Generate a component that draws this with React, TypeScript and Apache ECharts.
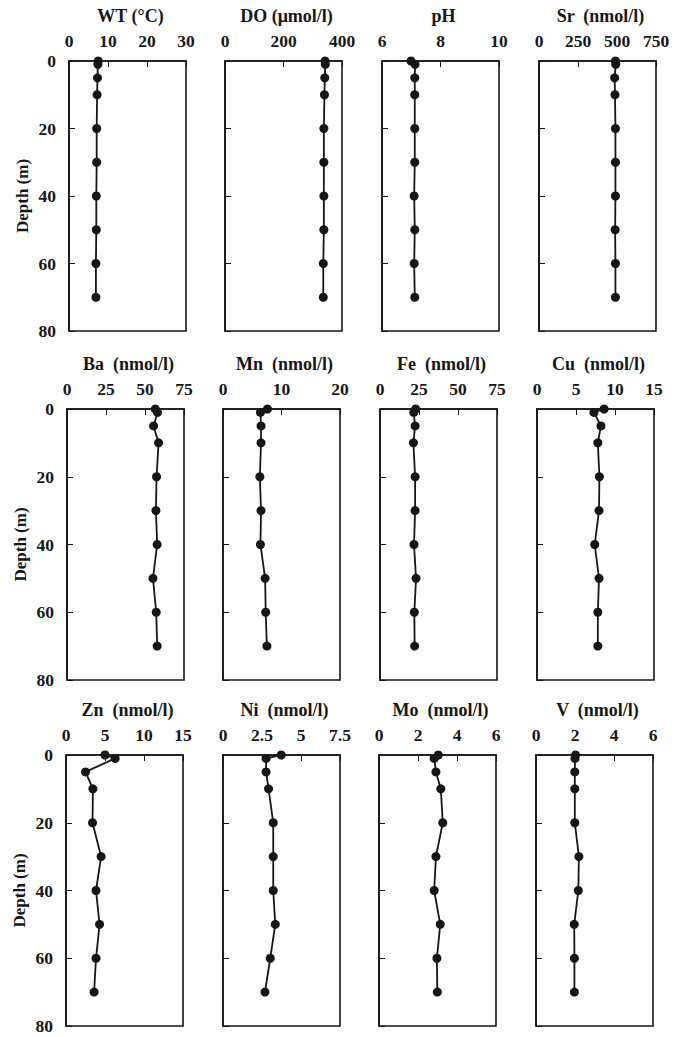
import React, { useEffect, useRef } from "react";
import * as echarts from "echarts";

const depths = [0, 1, 5, 10, 20, 30, 40, 50, 60, 70];
const depthTicks = [0, 20, 40, 60, 80];

const wt = [7.5, 7.4, 7.3, 7.2, 7.1, 7.1, 7.0, 7.0, 6.9, 6.9];
const dox = [342, 343, 341, 340, 338, 338, 338, 338, 336, 336];
const ph = [6.99, 7.13, 7.12, 7.12, 7.12, 7.12, 7.1, 7.12, 7.1, 7.12];
const sr = [490, 492, 485, 487, 490, 490, 490, 488, 490, 490];
const ba = [56.6, 58, 55.5, 58.7, 57.4, 57, 57.8, 55.1, 57.2, 57.8];
const mn = [7.6, 6.4, 6.5, 6.5, 6.3, 6.5, 6.4, 7.2, 7.3, 7.5];
const fe = [22.9, 21.6, 22.5, 21.4, 22.5, 22.5, 21.8, 23.1, 22, 22.2];
const cu = [8.6, 7.3, 8.2, 7.8, 8.0, 7.95, 7.4, 7.95, 7.8, 7.8];
const zn = [5.0, 6.3, 2.5, 3.45, 3.4, 4.5, 3.85, 4.3, 3.85, 3.6];
const ni = [3.73, 2.76, 2.76, 2.92, 3.22, 3.22, 3.22, 3.35, 3.03, 2.69];
const mo = [3.04, 2.83, 2.92, 3.17, 3.27, 2.92, 2.83, 3.14, 2.97, 2.99];
const vv = [2.03, 2.0, 1.99, 1.99, 1.99, 2.2, 2.17, 1.96, 1.97, 1.97];

const titles = [
  "WT (°C)", "DO (μmol/l)", "pH", "Sr  (nmol/l)",
  "Ba  (nmol/l)", "Mn  (nmol/l)", "Fe  (nmol/l)", "Cu  (nmol/l)",
  "Zn  (nmol/l)", "Ni  (nmol/l)", "Mo  (nmol/l)", "V  (nmol/l)",
];
const seriesValues = [wt, dox, ph, sr, ba, mn, fe, cu, zn, ni, mo, vv];
const xMin = [0, 0, 6, 0, 0, 0, 0, 0, 0, 0, 0, 0];
const xMax = [30, 400, 10, 750, 75, 20, 75, 15, 15, 7.5, 6, 6];
const xStep = [10, 200, 2, 250, 25, 10, 25, 5, 5, 2.5, 2, 2];

const rowTops = [61, 409, 755];
const rowBottoms = [331, 680, 1026];
const rowLefts = [
  [69, 225, 382, 539],
  [67, 223, 380, 537],
  [66, 223, 379, 536],
];
const PW = 117;
const FONT = "'Liberation Serif', 'Times New Roman', serif";
const INK = "#161616";

export default function App() {
  const ref = useRef<HTMLDivElement>(null);
  useEffect(() => {
    if (!ref.current) return;
    const chart = echarts.init(ref.current, undefined, { renderer: "svg" });
    const grids: any[] = [];
    const xAxes: any[] = [];
    const yAxes: any[] = [];
    const series: any[] = [];
    const graphics: any[] = [];
    for (let i = 0; i < 12; i++) {
      const r = Math.floor(i / 4);
      const c = i % 4;
      const left = rowLefts[r][c];
      const top = rowTops[r];
      const height = rowBottoms[r] - rowTops[r];
      grids.push({
        left, top, width: PW, height,
        show: true, borderColor: INK, borderWidth: 1.6, backgroundColor: "transparent",
      });
      xAxes.push({
        type: "value", gridIndex: i, position: "top",
        min: xMin[i], max: xMax[i], interval: xStep[i],
        axisLine: { show: true, lineStyle: { color: INK, width: 1.6 } },
        axisTick: { show: true, inside: true, length: 6, lineStyle: { color: INK, width: 1 } },
        axisLabel: {
          show: true, margin: 11, color: INK, fontSize: 17.5, fontWeight: "bold", fontFamily: FONT,
          showMinLabel: true, showMaxLabel: true,
        },
        splitLine: { show: false },
      });
      yAxes.push({
        type: "value", gridIndex: i, inverse: true,
        min: depthTicks[0], max: depthTicks[depthTicks.length - 1], interval: 20,
        axisLine: { show: true, lineStyle: { color: INK, width: 1.6 } },
        axisTick: { show: true, inside: true, length: 6, lineStyle: { color: INK, width: 1 } },
        axisLabel: {
          show: c === 0, margin: 13, color: INK, fontSize: 17.5, fontWeight: "bold", fontFamily: FONT,
        },
        splitLine: { show: false },
        name: c === 0 ? "Depth (m)" : "",
        nameLocation: "middle",
        nameGap: 38,
        nameRotate: 90,
        nameTextStyle: { color: INK, fontSize: 17, fontWeight: "bold", fontFamily: FONT },
      });
      series.push({
        type: "line", xAxisIndex: i, yAxisIndex: i,
        data: seriesValues[i].map((v, k) => [v, depths[k]]),
        symbol: "circle", symbolSize: 9,
        itemStyle: { color: INK },
        lineStyle: { color: INK, width: 1.8 },
        silent: true,
      });
      graphics.push({
        type: "text",
        x: left + PW / 2 + 3,
        y: top - 45,
        style: {
          text: titles[i], align: "center", verticalAlign: "middle",
          fontSize: 18, fontWeight: "bold", fontFamily: FONT, fill: INK,
        },
      });
    }
    chart.setOption({
      animation: false,
      backgroundColor: "#ffffff",
      grid: grids,
      xAxis: xAxes,
      yAxis: yAxes,
      series,
      graphic: graphics,
    });
    return () => chart.dispose();
  }, []);
  return (
    <div
      ref={ref}
      style={{ position: "absolute", left: 0, top: 0, width: 684, height: 1037, background: "#fff" }}
    />
  );
}
